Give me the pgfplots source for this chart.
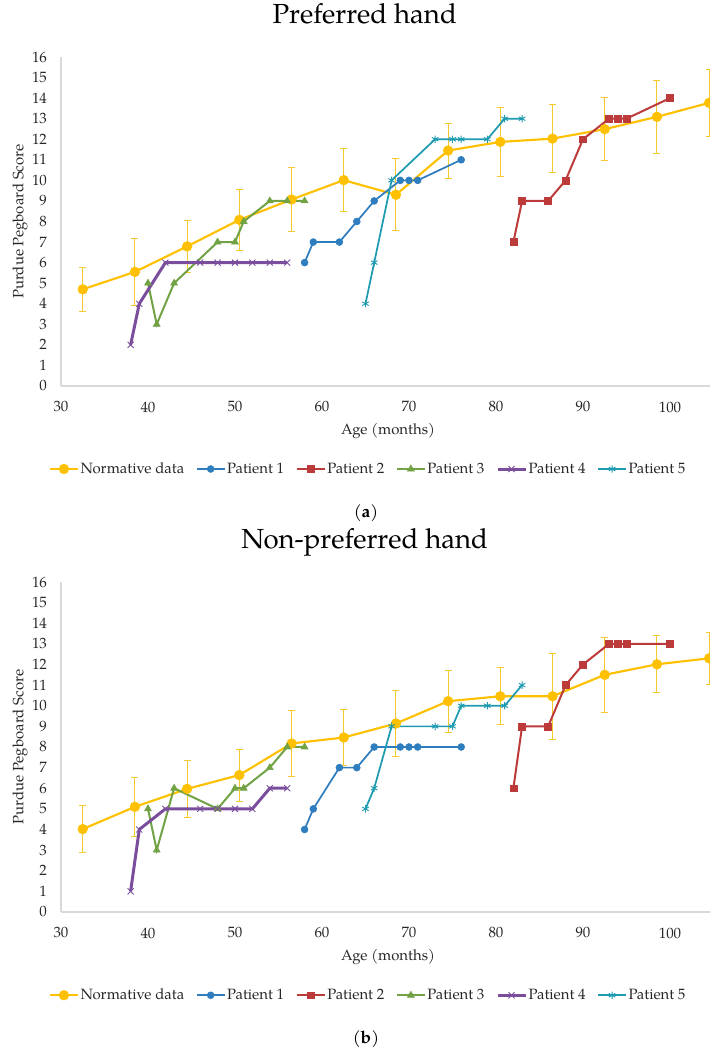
\documentclass[border=0pt]{standalone}
\usepackage{fontspec}
\setmainfont{TeX Gyre Pagella}
\usepackage{pgfplots}
\pgfplotsset{compat=1.18}
\usepackage{pgfplotstable}

\definecolor{cnorm}{HTML}{FFC000}
\definecolor{cerr}{HTML}{F5C82E}
\definecolor{cp1}{HTML}{2E7DBE}
\definecolor{cp2}{HTML}{BC3A3A}
\definecolor{cp3}{HTML}{71A244}
\definecolor{cp4}{HTML}{7A4E9C}
\definecolor{cp5}{HTML}{1E9BB0}
\definecolor{caxis}{HTML}{D9D9D9}

% Preferred hand
\pgfplotstableread{
x y e
32.5 4.70 1.08
38.5 5.55 1.63
44.5 6.79 1.27
50.5 8.08 1.48
56.5 9.07 1.58
62.5 10.01 1.54
68.5 9.30 1.74
74.5 11.45 1.34
80.5 11.87 1.68
86.5 12.03 1.66
92.5 12.49 1.53
98.5 13.09 1.78
104.5 13.77 1.64
}\normA
\pgfplotstableread{
x y
58 6
59 7
62 7
64 8
66 9
69 10
70 10
71 10
76 11
}\pAa
\pgfplotstableread{
x y
82 7
83 9
86 9
88 10
90 12
93 13
94 13
95 13
100 14
}\pAb
\pgfplotstableread{
x y
40 5
41 3
43 5
48 7
50 7
51 8
54 9
56 9
58 9
}\pAc
\pgfplotstableread{
x y
38 2
39 4
42 6
46 6
48 6
50 6
52 6
54 6
56 6
}\pAd
\pgfplotstableread{
x y
65 4
66 6
68 10
73 12
75 12
76 12
79 12
81 13
83 13
}\pAe

% Non-preferred hand
\pgfplotstableread{
x y e
32.5 4.02 1.15
38.5 5.10 1.42
44.5 5.97 1.39
50.5 6.64 1.26
56.5 8.17 1.58
62.5 8.46 1.36
68.5 9.14 1.58
74.5 10.22 1.51
80.5 10.46 1.38
86.5 10.46 2.08
92.5 11.50 1.81
98.5 12.01 1.39
104.5 12.30 1.26
}\normB
\pgfplotstableread{
x y
58 4
59 5
62 7
64 7
66 8
69 8
70 8
71 8
76 8
}\pBa
\pgfplotstableread{
x y
82 6
83 9
86 9
88 11
90 12
93 13
94 13
95 13
100 13
}\pBb
\pgfplotstableread{
x y
40 5
41 3
43 6
48 5
50 6
51 6
54 7
56 8
58 8
}\pBc
\pgfplotstableread{
x y
38 1
39 4
42 5
46 5
48 5
50 5
52 5
54 6
56 6
}\pBd
\pgfplotstableread{
x y
65 5
66 6
68 9
73 9
75 9
76 10
79 10
81 10
83 11
}\pBe

\newcommand{\lab}{\fontsize{11.2}{13}\selectfont}

\pgfplotsset{
  hand/.style={
    scale only axis,
    width=486.75pt,
    xmin=30, xmax=104.6, ymin=0, ymax=16,
    clip=false,
    axis lines*=left,
    axis line style={caxis, line width=0.9pt},
    major tick length=0pt,
    xtick={30,40,...,100},
    ytick={0,1,...,16},
    tick label style={font=\lab, text=black!85},
    /pgf/number format/assume math mode=true,
    yticklabel style={xshift=-7pt},
    xticklabel style={anchor=center, yshift=-15.75pt},
    xlabel={Age (months)},
    xlabel style={at={(axis description cs:0.504,-0.1368)}, anchor=center, font=\lab, text=black!85},
    ylabel={Purdue Pegboard Score},
    ylabel style={at={(axis description cs:-0.0632,0.5)}, anchor=center, font=\lab, text=black!85},
    title style={at={(axis description cs:0.468,1.076)}, anchor=base, font=\fontsize{20.7}{24}\selectfont},
    legend columns=6,
    legend style={at={(axis description cs:0.473,-0.2523)}, anchor=center, draw=none, fill=none,
      font=\lab, text=black!85, inner sep=0pt,
      nodes={inner xsep=1.2pt},
      /tikz/every even column/.append style={column sep=7.5pt}},
    legend image code/.code={\draw[mark repeat=2,mark phase=2,#1] plot coordinates {(0pt,0pt)(10.5pt,0pt)(21pt,0pt)};},
  },
  normst/.style={cnorm, line width=1.6pt, mark=*, mark size=3.6pt, mark options={fill=cnorm, draw=cnorm, line width=0.5pt},
    error bars/.cd, y dir=both, y explicit,
    error bar style={cerr, line width=0.75pt},
    error mark options={rotate=90, cerr, mark size=2.6pt, line width=0.75pt}},
  p1st/.style={cp1, line width=1.3pt, mark=*, mark size=2.6pt, mark options={fill=cp1, draw=cp1, line width=0.4pt}},
  p2st/.style={cp2, line width=1.5pt, mark=square*, mark size=2.6pt, mark options={fill=cp2, draw=cp2, line width=0.4pt}},
  p3st/.style={cp3, line width=1.5pt, mark=triangle*, mark size=3pt, mark options={fill=cp3, draw=cp3, line width=0.4pt}},
  p4st/.style={cp4, line width=2.25pt, mark=x, mark size=3.2pt, mark options={draw=cp4, line width=0.7pt}},
  p5st/.style={cp5, line width=1.3pt, mark=asterisk, mark size=2.8pt, mark options={draw=cp5, line width=0.7pt}},
}

\begin{document}
\begin{tikzpicture}
\useasboundingbox (0,0) rectangle (532.5pt,790.5pt);

\begin{axis}[hand, at={(45.75pt,501pt)}, anchor=south west, height=246.75pt, title={Preferred hand}]
\addplot[normst] table[x=x, y=y, y error=e] {\normA};
\addplot[p1st] table[x=x, y=y] {\pAa};
\addplot[p2st] table[x=x, y=y] {\pAb};
\addplot[p3st] table[x=x, y=y] {\pAc};
\addplot[p4st] table[x=x, y=y] {\pAd};
\addplot[p5st] table[x=x, y=y] {\pAe};
\legend{Normative data, Patient 1, Patient 2, Patient 3, Patient 4, Patient 5}
\node[font=\fontsize{13}{15}\selectfont] at (axis description cs:0.47,-0.386) {(\textbf{a})};
\end{axis}

\begin{axis}[hand, at={(45.75pt,106.5pt)}, anchor=south west, height=247.5pt, title={Non-preferred hand}]
\addplot[normst] table[x=x, y=y, y error=e] {\normB};
\addplot[p1st] table[x=x, y=y] {\pBa};
\addplot[p2st] table[x=x, y=y] {\pBb};
\addplot[p3st] table[x=x, y=y] {\pBc};
\addplot[p4st] table[x=x, y=y] {\pBd};
\addplot[p5st] table[x=x, y=y] {\pBe};
\legend{Normative data, Patient 1, Patient 2, Patient 3, Patient 4, Patient 5}
\node[font=\fontsize{13}{15}\selectfont] at (axis description cs:0.47,-0.386) {(\textbf{b})};
\end{axis}
\end{tikzpicture}
\end{document}
